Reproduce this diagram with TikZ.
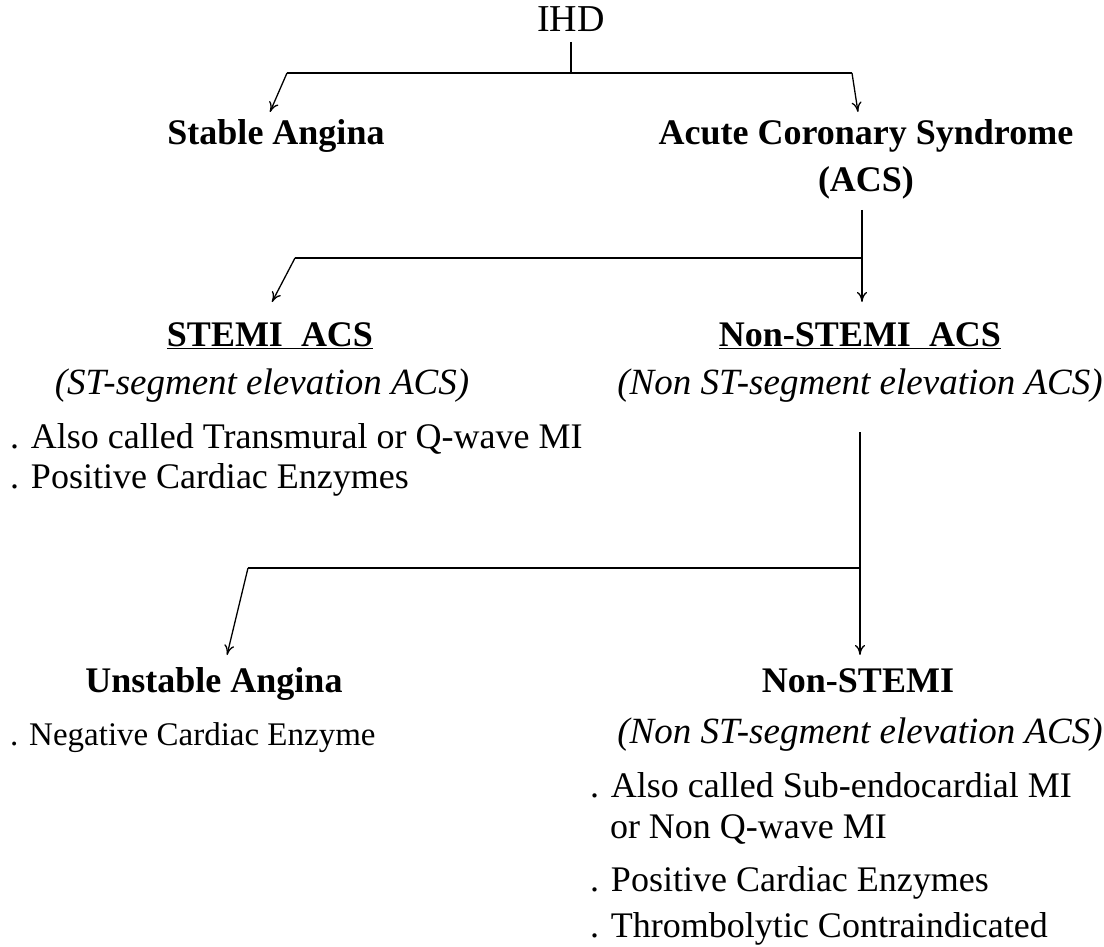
\documentclass[tikz,border=0pt]{standalone}
\usepackage{fontspec}
\setmainfont{Liberation Serif}
\usetikzlibrary{arrows.meta}
\begin{document}
\begin{tikzpicture}[x=1pt,y=-1pt,
  every node/.style={inner sep=0pt, outer sep=0pt},
  txt/.style={font=\fontsize{36}{42}\selectfont},
  head/.style={font=\fontsize{36}{42}\selectfont\bfseries},
  note/.style={font=\fontsize{37}{42}\selectfont\itshape},
  item/.style={font=\fontsize{36}{42}\selectfont, anchor=base west},
  wire/.style={line width=1.3pt},
  arr/.style={wire, -{To[length=10pt,width=10pt]}}]
\useasboundingbox (0,0) rectangle (1104,947);

% titles
\node[txt, anchor=base, font=\fontsize{38}{42}\selectfont] (ihd) at (571,32) {IHD};
\node[head, anchor=base] (stable) at (276,145) {Stable Angina};
\node[head, anchor=base] (acs) at (866,145) {Acute Coronary Syndrome};
\node[head, anchor=base] (acs2) at (866,192) {(ACS)};

\node[head, anchor=base] (stemi) at (270,346) {\underline{STEMI\ \ ACS}};
\node[note, anchor=base] (stemin) at (262,394) {(ST-segment elevation ACS)};
\node[item] (s1) at (10,448) {. Also called Transmural or Q-wave MI};
\node[item] (s2) at (10,488) {. Positive Cardiac Enzymes};

\node[head, anchor=base] (nstemi) at (860,346) {\underline{Non-STEMI\ \ ACS}};
\node[note, anchor=base] (nstemin) at (860,394) {(Non ST-segment elevation ACS)};

\node[head, anchor=base] (ua) at (214,692) {Unstable Angina};
\node[item, font=\fontsize{33}{38}\selectfont] (u1) at (10,745) {. Negative Cardiac Enzyme};

\node[head, anchor=base] (nst) at (858,692) {Non-STEMI};
\node[note, anchor=base] (nstn) at (860,743) {(Non ST-segment elevation ACS)};
\node[item] (n1) at (590,797) {. Also called Sub-endocardial MI};
\node[item] (n2) at (610,838) {or Non Q-wave MI};
\node[item] (n3) at (590,891) {. Positive Cardiac Enzymes};
\node[item] (n4) at (590,937) {. Thrombolytic Contraindicated};

% junction points
\coordinate (j0t) at (571,42);
\coordinate (j0) at (571,73);
\coordinate (j0l) at (287,73);
\coordinate (j0r) at (852,73);
\coordinate (t0l) at (270,112);
\coordinate (t0r) at (858,112);

\coordinate (j1t) at (862,210);
\coordinate (j1) at (862,258);
\coordinate (j1l) at (295,258);
\coordinate (t1l) at (272,302);
\coordinate (t1r) at (862,302);

\coordinate (j2t) at (860,432);
\coordinate (j2) at (860,568);
\coordinate (j2l) at (248,568);
\coordinate (t2l) at (227,655);
\coordinate (t2r) at (860,655);

% IHD branches
\draw[wire] (j0t) -- (j0);
\draw[wire] (j0l) -- (j0r);
\draw[arr] (j0l) -- (t0l);
\draw[arr] (j0r) -- (t0r);

% ACS branches
\draw[wire] (j1t) -- (j1);
\draw[wire] (j1l) -- (j1);
\draw[arr] (j1l) -- (t1l);
\draw[arr] (j1) -- (t1r);

% Non-STEMI ACS branches
\draw[wire] (j2t) -- (j2);
\draw[wire] (j2l) -- (j2);
\draw[arr] (j2l) -- (t2l);
\draw[arr] (j2) -- (t2r);
\end{tikzpicture}
\end{document}
